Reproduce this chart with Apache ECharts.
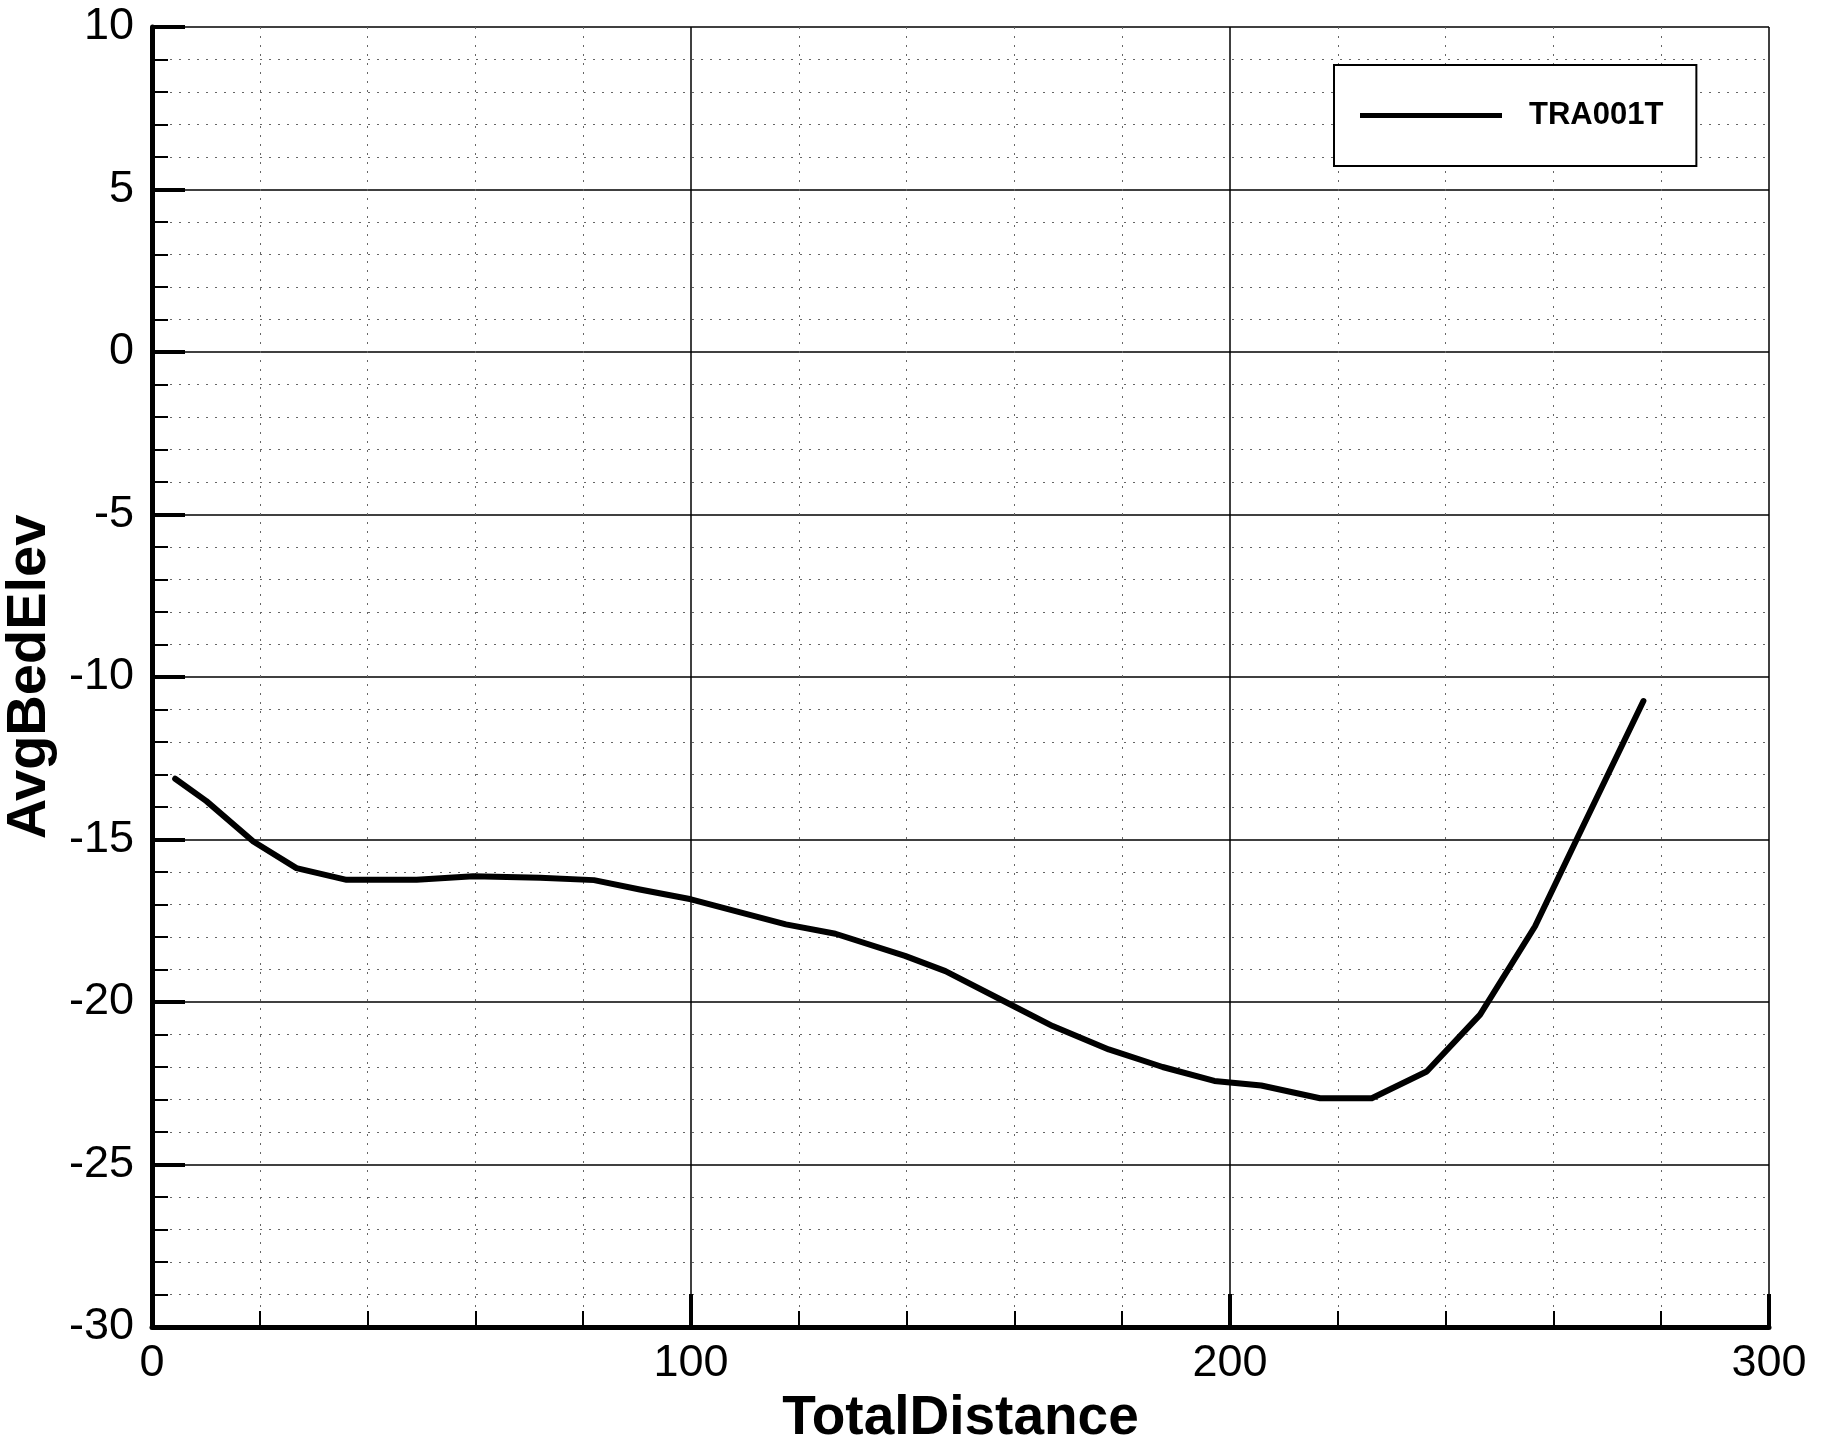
<!DOCTYPE html>
<html>
<head>
<meta charset="utf-8">
<script src="https://cdn.jsdelivr.net/npm/echarts@6/dist/echarts.min.js"></script>
<style>
  html, body { margin: 0; padding: 0; background: #fff; }
  #chart { width: 1831px; height: 1438px; }
</style>
</head>
<body>
<div id="chart"></div>
<script>
// ---- Data ----
const seriesName = 'TRA001T';
const totalDistance = [4.3, 10.1, 18.8, 26.8, 36.1, 49.1, 59.6, 72.0, 82.0, 90.5, 100.0,
  117.6, 126.8, 139.7, 147.2, 158.0, 167.1, 177.5, 187.5, 197.1, 205.8, 216.7, 226.3,
  236.5, 246.4, 256.6, 264.6, 276.7];
const avgBedElev = [-13.13, -13.82, -15.06, -15.88, -16.24, -16.24, -16.13, -16.18, -16.25, -16.54, -16.84,
  -17.61, -17.90, -18.58, -19.05, -19.97, -20.74, -21.46, -22.00, -22.43, -22.57, -22.96, -22.96,
  -22.14, -20.39, -17.67, -14.90, -10.74];
const xAxisName = 'TotalDistance';
const yAxisName = 'AvgBedElev';

const points = totalDistance.map((x, i) => [x, avgBedElev[i]]);

const chart = echarts.init(document.getElementById('chart'), null, { renderer: 'canvas' });
const font = '"Liberation Sans", Arial, Helvetica, sans-serif';

const axisCommon = {
  type: 'value',
  nameLocation: 'middle',
  nameTextStyle: { fontFamily: font, fontSize: 56, fontWeight: 'bold', color: '#000' },
  axisLine: { show: true, onZero: false, lineStyle: { color: '#000', width: 5 } },
  axisTick: { show: true, inside: true, length: 33, lineStyle: { color: '#000', width: 4 } },
  minorTick: { show: true, splitNumber: 5, length: 16, lineStyle: { color: '#000', width: 2 } },
  splitLine: { show: true, showMinLine: true, showMaxLine: true, lineStyle: { color: '#000', width: 1.5 } },
  minorSplitLine: { show: true, lineStyle: { color: '#666', width: 1, type: [2, 7] } },
  axisLabel: { fontFamily: font, fontSize: 45, color: '#000' }
};

chart.setOption({
  backgroundColor: '#fff',
  animation: false,
  grid: { left: 152, top: 27, right: 62, bottom: 111, containLabel: false, outerBoundsMode: 'none' },
  xAxis: Object.assign({}, axisCommon, {
    min: 0, max: 300, interval: 100,
    name: xAxisName, nameGap: 51,
    nameTextStyle: Object.assign({}, axisCommon.nameTextStyle, { fontSize: 55 }),
    axisLabel: Object.assign({}, axisCommon.axisLabel, { margin: 14 })
  }),
  yAxis: Object.assign({}, axisCommon, {
    min: -30, max: 10, interval: 5,
    name: yAxisName, nameGap: 77,
    axisLabel: Object.assign({}, axisCommon.axisLabel, { margin: 18 })
  }),
  legend: {
    show: true,
    left: 1334, top: 65,
    orient: 'vertical',
    padding: [35, 33, 35, 26],
    borderColor: '#000', borderWidth: 2,
    backgroundColor: '#fff',
    itemWidth: 142, itemHeight: 5,
    data: [{ name: seriesName, icon: 'rect' }],
    textStyle: { fontFamily: font, fontSize: 31, fontWeight: 'bold', color: '#000', padding: [0, 0, 0, 22] }
  },
  series: [{
    name: seriesName,
    type: 'line',
    data: points,
    symbol: 'none',
    smooth: false,
    z: 5,
    lineStyle: { color: '#000', width: 6, cap: 'round', join: 'round' },
    itemStyle: { color: '#000' }
  }]
});
</script>
</body>
</html>
